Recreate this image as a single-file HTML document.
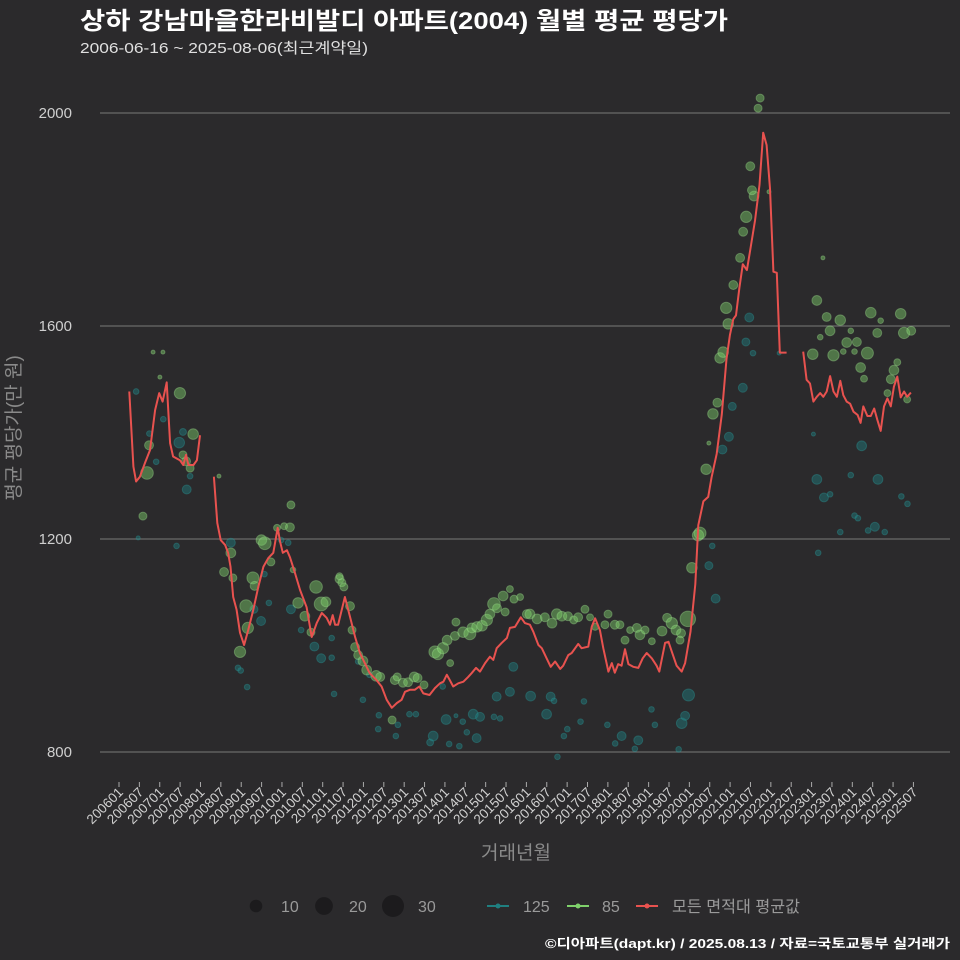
<!DOCTYPE html>
<html><head><meta charset="utf-8">
<style>
html,body{margin:0;padding:0;background:#2b2a2c;}
svg{display:block;font-family:"Liberation Sans","Noto Sans CJK KR",sans-serif;}
</style></head>
<body>
<svg id="chart" width="960" height="960" viewBox="0 0 960 960" xmlns="http://www.w3.org/2000/svg">
<rect x="0" y="0" width="960" height="960" fill="#2b2a2c"/>
<text x="80" y="29" fill="#ffffff" font-size="24" font-weight="bold" textLength="648" lengthAdjust="spacingAndGlyphs">상하 강남마을한라비발디 아파트(2004) 월별 평균 평당가</text>
<text x="80" y="53" fill="#e0e0e0" font-size="15" textLength="288" lengthAdjust="spacingAndGlyphs">2006-06-16 ~ 2025-08-06(최근계약일)</text>
<g id="grid"></g>
<g id="xaxis"></g>
<g id="marks125"></g>
<g id="marks85"></g>
<path id="avgline" fill="none" stroke="#e8524f" stroke-width="2" stroke-linejoin="round"/>
<text transform="translate(20,428) rotate(-90)" text-anchor="middle" fill="#8a8a8a" font-size="19">평균 평당가(만 원)</text>
<text x="516" y="859" text-anchor="middle" fill="#8a8a8a" font-size="19">거래년월</text>
<g>
<circle cx="256" cy="906" r="6.3" fill="#1c1b1d"/>
<text x="281" y="912" fill="#9a9a9a" font-size="16">10</text>
<circle cx="324" cy="906" r="8.9" fill="#1c1b1d"/>
<text x="349" y="912" fill="#9a9a9a" font-size="16">20</text>
<circle cx="393" cy="906" r="11" fill="#1c1b1d"/>
<text x="418" y="912" fill="#9a9a9a" font-size="16">30</text>
<line x1="487" y1="906" x2="509" y2="906" stroke="#1f7f80" stroke-width="2"/>
<circle cx="498" cy="906" r="2.5" fill="#1f7f80"/>
<text x="523" y="912" fill="#9a9a9a" font-size="16">125</text>
<line x1="567" y1="906" x2="589" y2="906" stroke="#7fd16b" stroke-width="2"/>
<circle cx="578" cy="906" r="2.5" fill="#7fd16b"/>
<text x="602" y="912" fill="#9a9a9a" font-size="16">85</text>
<line x1="636" y1="906" x2="658" y2="906" stroke="#e8524f" stroke-width="2"/>
<circle cx="647" cy="906" r="2.5" fill="#e8524f"/>
<text x="672" y="912" fill="#9a9a9a" font-size="16" textLength="128" lengthAdjust="spacingAndGlyphs">모든 면적대 평균값</text>
</g>
<text x="950" y="948" text-anchor="end" fill="#ffffff" font-size="13" font-weight="bold" textLength="405" lengthAdjust="spacingAndGlyphs">©디아파트(dapt.kr) / 2025.08.13 / 자료=국토교통부 실거래가</text>
</svg>
<script>
const yTicks = [800, 1200, 1600, 2000];
const xTickLabels = [];
for (let yr = 2006; yr <= 2025; yr++) { xTickLabels.push(yr + "01"); xTickLabels.push(yr + "07"); }
// average line: month index (0 = 2006-01), value; null = gap
const avgMonths = [5.1,6.3,7.1,8.2,9.7,11.2,12.7,13.9,14.9,16.1,17.1,18.0,20.0,21.0,21.8,22.5,24.0,25.0,25.9,null,
30.0,31.0,32.0,33.3,34.2,34.9,35.7,36.7,37.7,38.9,40.1,41.6,43.1,44.6,46.0,47.5,48.8,49.5,50.3,51.5,52.4,53.9,55.4,57.3,58.8,60.3,61.8,63.2,64.2,65.0,65.7,66.6,68.6,70.1,71.6,73.0,75.0,75.9,77.9,79.4,80.9,82.4,83.9,85.3,86.3,87.8,89.2,90.5,91.7,93.5,95.1,96.6,97.6,98.6,99.5,100.5,102.0,103.5,104.9,105.9,107.2,108.4,109.9,111.3,112.3,113.3,114.8,116.3,117.2,118.7,120.4,121.6,123.1,124.1,125.6,126.6,128.0,129.2,130.5,132.0,132.9,134.4,135.4,137.3,138.3,140.3,141.3,142.3,143.7,144.7,146.2,147.2,148.1,149.1,150.1,151.1,152.1,153.5,155.0,156.3,157.5,159.0,160.4,161.2,162.9,163.9,164.9,166.3,167.8,168.8,170.4,171.8,172.7,174.2,175.6,176.6,178.1,179.6,181.0,182.0,183.0,183.8,184.8,185.8,187.0,187.9,189.4,190.7,191.8,192.8,193.8,194.8,195.8,196.7,198.7,null,
203.6,204.6,205.6,206.6,207.6,208.6,209.5,210.5,211.5,212.5,213.5,214.5,215.4,216.4,217.4,218.4,219.6,220.5,221.3,222.5,223.5,224.5,225.4,226.4,227.4,228.4,229.4,230.3,231.3,232.3,233.3,234.2,235.3];
const avgValues = [1477,1336,1308,1317,1343,1367,1442,1474,1458,1494,1380,1355,1348,1339,1358,1339,1339,1348,1395,null,
1317,1230,1198,1189,1174,1148,1091,1067,1024,1001,1029,1067,1110,1148,1164,1174,1221,1195,1174,1179,1166,1136,1104,1072,1016,1042,1061,1052,1039,1057,1039,1039,1091,1054,1016,986,960,948,935,923,898,883,892,898,913,917,917,923,910,907,920,929,932,945,935,923,929,932,941,948,958,951,967,979,973,995,1005,1014,1033,1035,1053,1042,1039,1026,1001,995,976,960,970,956,962,982,986,1003,995,998,1035,1051,1029,995,951,967,949,965,962,993,965,960,958,976,986,976,962,951,1005,1007,988,962,951,967,1026,1115,1226,1271,1279,1316,1360,1434,1538,1583,1613,1620,1672,1716,1705,1739,1798,1865,1963,1940,1858,1702,1700,1550,1550,null,
1552,1499,1492,1458,1467,1474,1467,1477,1506,1477,1467,1497,1470,1458,1454,1439,1433,1418,1449,1431,1431,1445,1424,1403,1449,1464,1449,1486,1505,1466,1477,1467,1475];
// 85 series
const s85Months = [12.1,15,14.1,20,10.9,10.3,9.1,23.9,21.8,23,20.9,31.5,33,35,35.6,37.7,39.5,40,41.5,42,44,45,46.8,48.6,50.7,52.7,52.4,54.8,53.3,56.8,58.6,60.1,61.6,63,67,67.7,68.3,70.1,67,70.7,71.6,72.5,73.9,75,77.8,79,82.5,83.3,84,85.7,87.2,89,90,91.9,95.1,96,97.5,98.7,99.6,101,101.3,103.4,105.4,106,107.5,109,110.4,111.3,112.5,113.4,115.2,115.8,117.2,118.4,120.2,122.2,123.1,125.2,127.5,129.6,131,132.5,134.3,136,137.3,139.3,140.8,142.3,145.2,146.1,148.1,149.6,151.1,152.6,154.6,155.5,157,159,162,163.5,164.9,166.1,167.6,167.3,169.6,170.8,172.6,173.2,175,175.8,177,178.3,179.1,180,180.9,181.5,183,185,185.9,186.8,188,189.1,188.5,190.3,190.9,193.5,
207.6,210.5,214.5,211.5,208.6,217.6,216.4,219.4,215.4,218.7,212.5,222.5,206.4,220.5,221.5,223.5,225.4,226.4,232.3,233.3,235.4,230.3,229.4,231.3,228.4,234.2,209.4];
const s85Values = [1551,1551,1504,1474,1376,1324,1243,1397,1346,1333,1358,1318,1138,1174,1127,988,1074,1033,1127,1112,1198,1192,1157,1221,1224,1264,1222,1080,1142,1055,1025,1110,1078,1082,1125,1118,1110,1074,1130,1029,997,982,971,954,943,941,860,935,941,930,931,941,939,926,988,984,995,1010,967,1018,1044,1025,1022,1033,1035,1037,1048,1059,1078,1070,1093,1063,1106,1087,1091,1059,1059,1050,1053,1042,1059,1055,1055,1048,1053,1068,1053,1035,1039,1059,1039,1039,1010,1029,1033,1020,1029,1008,1027,1052,1042,1029,1023,1010,1050,1146,1207,1211,1331,1380,1435,1456,1540,1551,1634,1604,1677,1728,1777,1805,1900,1844,1855,2009,2028,1852,
1648,1617,1611,1591,1579,1591,1569,1570,1552,1552,1545,1549,1547,1522,1501,1625,1587,1610,1623,1587,1591,1517,1500,1532,1474,1462,1728];
const s85Counts = [1,1,1,8,5,10,4,7,5,4,4,1,5,6,4,8,10,8,9,5,7,10,4,3,3,4,5,7,2,6,4,10,12,6,5,4,4,5,3,4,5,5,6,6,7,5,4,5,4,5,5,6,5,4,9,8,8,6,3,5,4,7,9,6,7,7,8,6,10,5,6,4,3,4,3,5,6,6,5,6,7,6,5,4,5,4,3,3,4,4,5,4,4,3,5,6,4,3,6,5,8,6,5,4,15,7,8,9,7,1,7,5,7,7,8,7,5,5,5,8,5,6,5,4,4,1,
6,5,7,6,2,2,6,5,2,2,8,9,7,6,3,7,5,2,7,8,5,6,5,3,3,3,1];
// 125 series
const s125Months = [7.1,7.7,11.0,15.1,13.0,19.8,20.9,23.0,22.0,19.0,35.0,37.1,39.8,37.9,41.8,43.9,44.9,46.2,49.8,51.9,52.7,55.7,59.6,61.6,64.7,64.7,65.4,72.5,75.8,73.9,78.4,78.6,83.6,84.2,87.6,89.5,93.7,94.6,97.4,98.4,99.3,101.3,102.3,103.3,104.5,106.4,107.4,108.4,112.5,113.3,114.3,117.2,118.2,123.3,128.0,129.2,130.2,131.2,133.1,134.1,138.0,139.0,145.9,148.2,150.1,154.0,155.0,158.9,159.9,166.9,167.8,168.8,169.8,175.8,176.8,177.8,179.8,181.7,182.7,185.8,186.7,187.7,188.8,196.5,206.6,207.6,208.0,209.7,211.5,214.5,217.6,218.7,219.7,220.8,222.7,224.7,225.6,227.6,232.5,234.3];
const s125Values = [1477,1202,1398,1425,1345,1381,1401,1318,1293,1187,1193,958,922,953,1068,1046,1134,1080,1198,1193,1068,1029,998,976,977,1014,909,970,945,898,843,869,830,851,871,871,818,830,923,861,815,868,811,857,837,871,826,866,866,904,863,913,960,905,871,904,896,791,830,843,857,895,851,816,830,806,822,880,851,805,854,868,907,1150,1187,1088,1368,1392,1449,1484,1570,1616,1549,1549,1397,1312,1174,1278,1284,1213,1320,1244,1239,1375,1216,1223,1312,1213,1280,1266];
const s125Counts = [2,1,2,2,2,7,3,2,5,2,5,2,2,2,4,5,2,2,2,2,5,2,5,5,2,2,2,2,2,2,2,2,2,2,2,2,3,6,2,6,2,1,2,2,2,6,5,5,2,5,2,5,5,6,6,5,2,2,2,2,2,2,2,2,5,2,5,2,2,2,7,5,9,4,2,5,5,5,4,5,4,5,2,1,1,6,2,5,2,2,2,2,2,6,2,5,6,2,2,2];

const NS = "http://www.w3.org/2000/svg";
function xScale(m) { return 129 + (m - 5) * 3.395; }
function yScale(v) { return 752 - (v - 800) * (213 / 400); }
function rScale(n) { return 2 * Math.sqrt(n); }
function tickX(i) { return 119 + i * 20.37; }

const grid = document.getElementById('grid');
yTicks.forEach(function (t) {
  const ln = document.createElementNS(NS, 'line');
  
  
  ln.setAttribute('x1', 100); ln.setAttribute('x2', 950);
  ln.setAttribute('y1', yScale(t)); ln.setAttribute('y2', yScale(t));
  ln.setAttribute('stroke', '#6a6a6a'); ln.setAttribute('stroke-width', '1.2');
  grid.appendChild(ln);
  const tx = document.createElementNS(NS, 'text');
  
  
  tx.setAttribute('x', 72); tx.setAttribute('y', yScale(t) + 5);
  tx.setAttribute('text-anchor', 'end'); tx.setAttribute('fill', '#cfcfcf'); tx.setAttribute('font-size', '15');
  tx.textContent = t;
  grid.appendChild(tx);
});

const xa = document.getElementById('xaxis');
xTickLabels.forEach(function (lab, i) {
  const x = tickX(i);
  const tk = document.createElementNS(NS, 'line');
  
  
  tk.setAttribute('x1', x); tk.setAttribute('x2', x);
  tk.setAttribute('y1', 782); tk.setAttribute('y2', 787);
  tk.setAttribute('stroke', '#aaaaaa'); tk.setAttribute('stroke-width', '1');
  xa.appendChild(tk);
  const tx = document.createElementNS(NS, 'text');
  
  
  tx.setAttribute('transform', 'translate(' + (x + 5) + ',793) rotate(-45)');
  tx.setAttribute('text-anchor', 'end'); tx.setAttribute('fill', '#d0d0d0'); tx.setAttribute('font-size', '13.5');
  tx.textContent = lab;
  xa.appendChild(tx);
});

function drawPoints(gid, months, values, counts, fill, stroke, name) {
  const g = document.getElementById(gid);
  for (let i = 0; i < months.length; i++) {
    const c = document.createElementNS(NS, 'circle');
    
    
    c.setAttribute('cx', xScale(months[i]));
    c.setAttribute('cy', yScale(values[i]));
    c.setAttribute('r', rScale(counts[i]));
    c.setAttribute('fill', fill);
    c.setAttribute('fill-opacity', '0.45');
    c.setAttribute('stroke', stroke);
    c.setAttribute('stroke-opacity', '0.35');
    c.setAttribute('stroke-width', '1');
    g.appendChild(c);
  }
}
drawPoints('marks125', s125Months, s125Values, s125Counts, '#1f7f80', '#2aa0a0', 'point-125');
drawPoints('marks85', s85Months, s85Values, s85Counts, '#7fd16b', '#a6e896', 'point-85');

let d = '', pen = false;
for (let i = 0; i < avgMonths.length; i++) {
  if (avgMonths[i] === null || avgValues[i] === null) { pen = false; continue; }
  d += (pen ? 'L' : 'M') + xScale(avgMonths[i]).toFixed(1) + ',' + yScale(avgValues[i]).toFixed(1);
  pen = true;
}
document.getElementById('avgline').setAttribute('d', d);
</script>
</body></html>
